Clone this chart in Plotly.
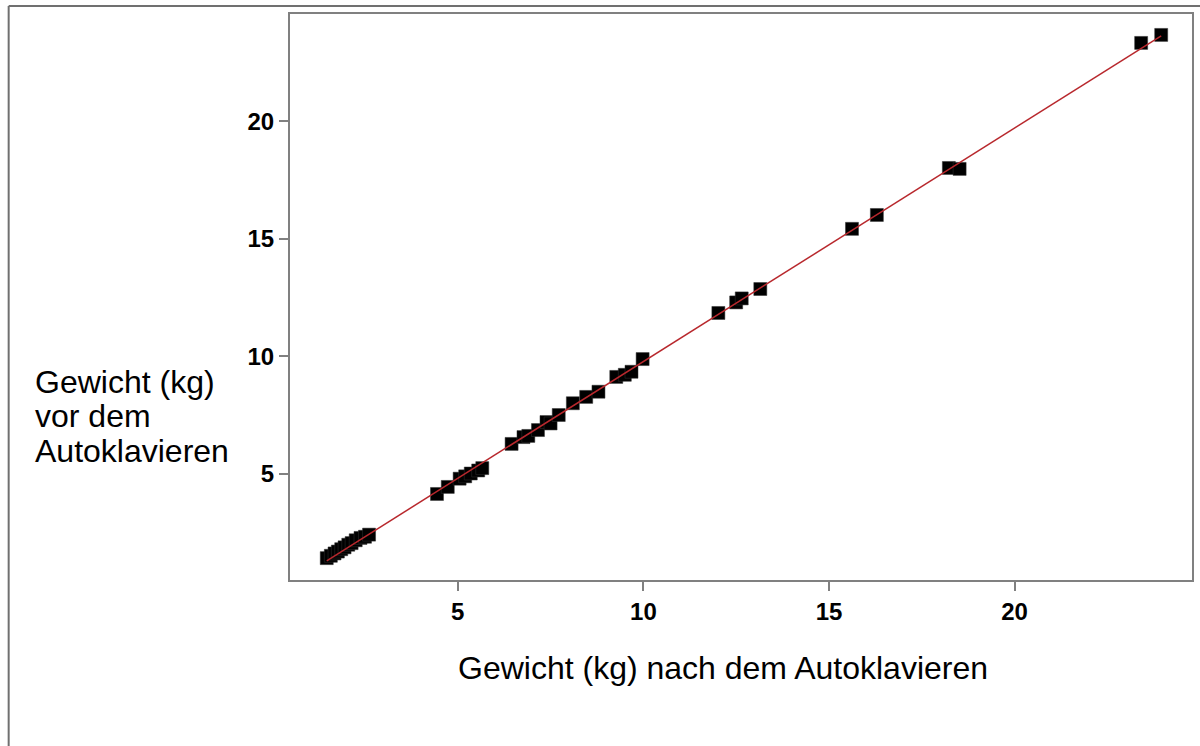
import numpy as np
import plotly.graph_objects as go

# Weight after autoclaving (x) and before autoclaving (y), in kg
gewicht_nach = [1.47, 1.58, 1.68, 1.77, 1.86, 1.95, 2.05, 2.14, 2.25, 2.38, 2.50, 2.61,
                4.44, 4.73, 5.05, 5.20, 5.35, 5.55, 5.66,
                6.45, 6.77, 6.90, 7.16, 7.39, 7.50, 7.72, 8.10, 8.46, 8.79,
                9.27, 9.50, 9.68, 9.98,
                12.02, 12.50, 12.65, 13.15,
                15.62, 16.29,
                18.23, 18.52,
                23.41, 23.95]
gewicht_vor = [1.42, 1.52, 1.62, 1.70, 1.80, 1.88, 1.99, 2.06, 2.18, 2.28, 2.33, 2.42,
               4.15, 4.45, 4.80, 4.90, 5.02, 5.15, 5.25,
               6.28, 6.57, 6.62, 6.87, 7.21, 7.15, 7.51, 8.01, 8.28, 8.50,
               9.13, 9.22, 9.35, 9.89,
               11.85, 12.30, 12.47, 12.87,
               15.43, 16.02,
               18.02, 17.98,
               23.34, 23.68]
tick_vals = [5, 10, 15, 20]
tick_text = ["5", "10", "15", "20"]

x_title = "Gewicht (kg) nach dem Autoklavieren"
y_title_lines = ["Gewicht (kg)", "vor dem", "Autoklavieren"]

FONT = "Liberation Sans, Arial, sans-serif"

# least-squares line through the points
xa = np.array(gewicht_nach)
ya = np.array(gewicht_vor)
slope, intercept = np.polyfit(xa, ya, 1)
fit_x = np.array([xa.min(), xa.max()])
fit_y = slope * fit_x + intercept

fig = go.Figure()
fig.add_trace(go.Scatter(
    x=gewicht_nach, y=gewicht_vor, mode="markers",
    marker=dict(symbol="square", size=13, color="black",
                line=dict(width=0.5, color="#333333")),
    showlegend=False, hoverinfo="x+y"))
fig.add_trace(go.Scatter(
    x=fit_x, y=fit_y, mode="lines",
    line=dict(color="#b8282d", width=1.5),
    showlegend=False, hoverinfo="skip"))

axis_common = dict(
    showgrid=False, zeroline=False,
    showline=True, mirror=True, linecolor="#808080", linewidth=2,
    ticks="outside", ticklen=9, tickwidth=2, tickcolor="#808080",
    tickvals=tick_vals, ticktext=tick_text,
    tickfont=dict(family=FONT, size=24, color="black", weight="bold"),
)

# y title: three left-aligned lines beside the axis
y_title_ann = [
    dict(text=line, xref="paper", yref="paper", x=(32 - 290) / 904, y=(580 - yc) / 566,
         xanchor="left", yanchor="middle", showarrow=False,
         font=dict(family=FONT, size=32, color="black"))
    for line, yc in zip(y_title_lines, [382, 416, 451])
]

fig.update_layout(
    width=1200, height=746,
    margin=dict(l=290, r=6, t=14, b=166),
    paper_bgcolor="white", plot_bgcolor="white",
    xaxis=dict(range=[0.48, 24.78], ticklabelstandoff=0, **axis_common),
    yaxis=dict(range=[0.49, 24.57], ticklabelstandoff=0, **axis_common),
    annotations=[
        dict(text=x_title, xref="paper", yref="paper", x=(724 - 290) / 904,
             y=(580 - 668) / 566, xanchor="center", yanchor="middle", showarrow=False,
             font=dict(family=FONT, size=32, color="black")),
    ] + y_title_ann,
    shapes=[
        dict(type="line", xref="paper", yref="paper", x0=-0.3119, x1=-0.3119,
             y0=1.0141, y1=-0.4, line=dict(color="#707070", width=2)),
        dict(type="line", xref="paper", yref="paper", x0=-0.3119, x1=1.05,
             y0=1.0141, y1=1.0141, line=dict(color="#707070", width=2)),
    ],
)

fig.write_html("out.html")
